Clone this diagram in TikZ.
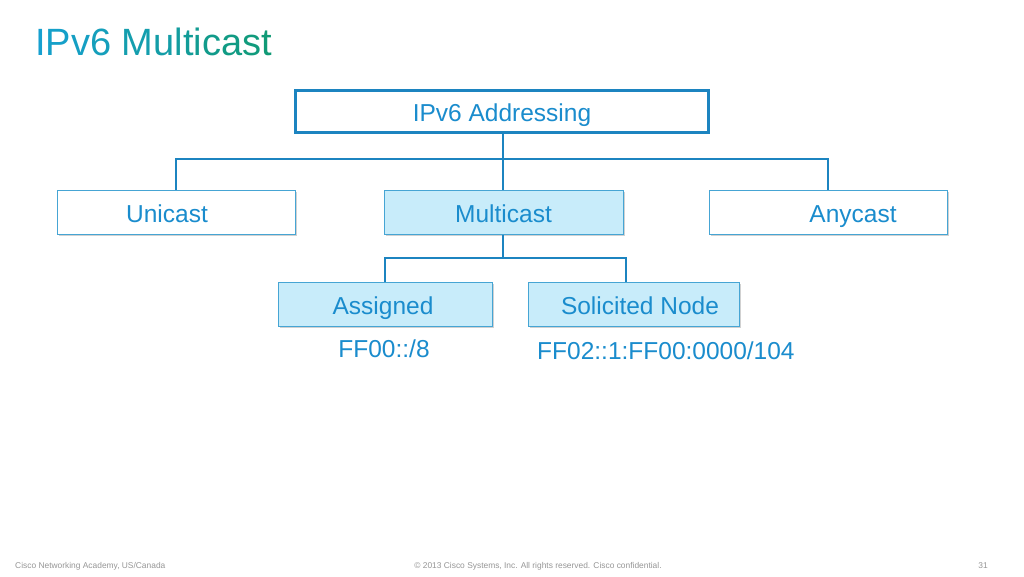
\documentclass[tikz,border=0pt]{standalone}
\usepackage{fontspec}
\setmainfont{Liberation Sans}
\usetikzlibrary{shadows}
\definecolor{tblue}{RGB}{22,160,208}
\definecolor{tgreen}{RGB}{16,154,118}
\definecolor{txtblue}{RGB}{26,140,205}
\definecolor{lineblue}{RGB}{28,132,192}
\definecolor{boxedge}{RGB}{70,165,212}
\definecolor{boxfill}{RGB}{200,236,250}
\definecolor{footgray}{RGB}{150,150,150}
\newcommand{\tl}[2]{\textcolor{tgreen!#1!tblue}{#2}}
\tikzset{
  boxbase/.style={rectangle, inner sep=0pt, text=txtblue,
    text height=21pt, text depth=1pt,
    font=\fontsize{24.5}{28}\selectfont,
    drop shadow={shadow xshift=1.5pt, shadow yshift=-1.5pt, opacity=0.18, fill=black}},
  topbox/.style={boxbase, draw=lineblue, line width=3pt, fill=white,
    minimum width=413pt, minimum height=42pt},
  plainbox/.style={boxbase, draw=boxedge, line width=1pt, fill=white,
    minimum width=238pt, minimum height=44pt},
  fillbox/.style={boxbase, draw=boxedge, line width=1pt, fill=boxfill,
    minimum height=44pt},
  conn/.style={draw=lineblue, line width=2.5pt},
  addrtext/.style={text=txtblue, font=\fontsize{24.5}{28}\selectfont, inner sep=0pt},
  foot/.style={text=footgray, font=\fontsize{8.4}{10}\selectfont, inner sep=0pt}
}
\begin{document}
\begin{tikzpicture}[x=1pt,y=-1pt]
\useasboundingbox[fill=white] (0,0) rectangle (1024,576);
% title
\node[anchor=base west, inner sep=0pt, font=\fontsize{38}{42}\selectfont] (title) at (35,55)
  {\tl{0}{I}\tl{8}{P}\tl{15}{v}\tl{23}{6}\tl{30}{\ }\tl{38}{M}\tl{46}{u}\tl{54}{l}\tl{62}{t}\tl{69}{i}\tl{77}{c}\tl{85}{a}\tl{92}{s}\tl{100}{t}};
% boxes
\node[topbox] (addr) at (502,111) {IPv6 Addressing};
\node[plainbox] (uni) at (176,212) {\hspace*{-18pt}Unicast};
\node[fillbox, minimum width=239pt] (multi) at (503.5,212) {Multicast};
\node[plainbox] (any) at (828,212) {\hspace*{50pt}Anycast};
\node[fillbox, minimum width=214pt] (assign) at (385,304) {\hspace*{-4pt}Assigned};
\node[fillbox, minimum width=211pt] (sol) at (633.5,304) {\hspace*{13pt}Solicited Node};
% addresses
\node[addrtext, anchor=base] (a1) at (384,357) {FF00::/8};
\node[addrtext, anchor=base west] (a2) at (537,359) {FF02::1:FF00:0000/104};
% connectors
\coordinate (bus) at (503,159);
\coordinate (bus2) at (503,258);
\coordinate (soldrop) at (626,282);
\draw[conn] (bus |- addr.south) -- (bus |- multi.north);
\draw[conn] (uni.north) -- (uni.north |- bus) -- (bus -| any.north) -- (any.north);
\draw[conn] (bus2 |- multi.south) -- (bus2);
\draw[conn] (assign.north) -- (assign.north |- bus2) -- (bus2 -| soldrop) -- (soldrop);
% footer
\node[foot, anchor=base west] (f1) at (15,568) {Cisco Networking Academy, US/Canada};
\node[foot, anchor=base] (f2) at (538,568) {\textcopyright\ 2013 Cisco Systems, Inc. All rights reserved. Cisco confidential.};
\node[foot, anchor=base] (f3) at (983,568) {31};
\end{tikzpicture}
\end{document}
